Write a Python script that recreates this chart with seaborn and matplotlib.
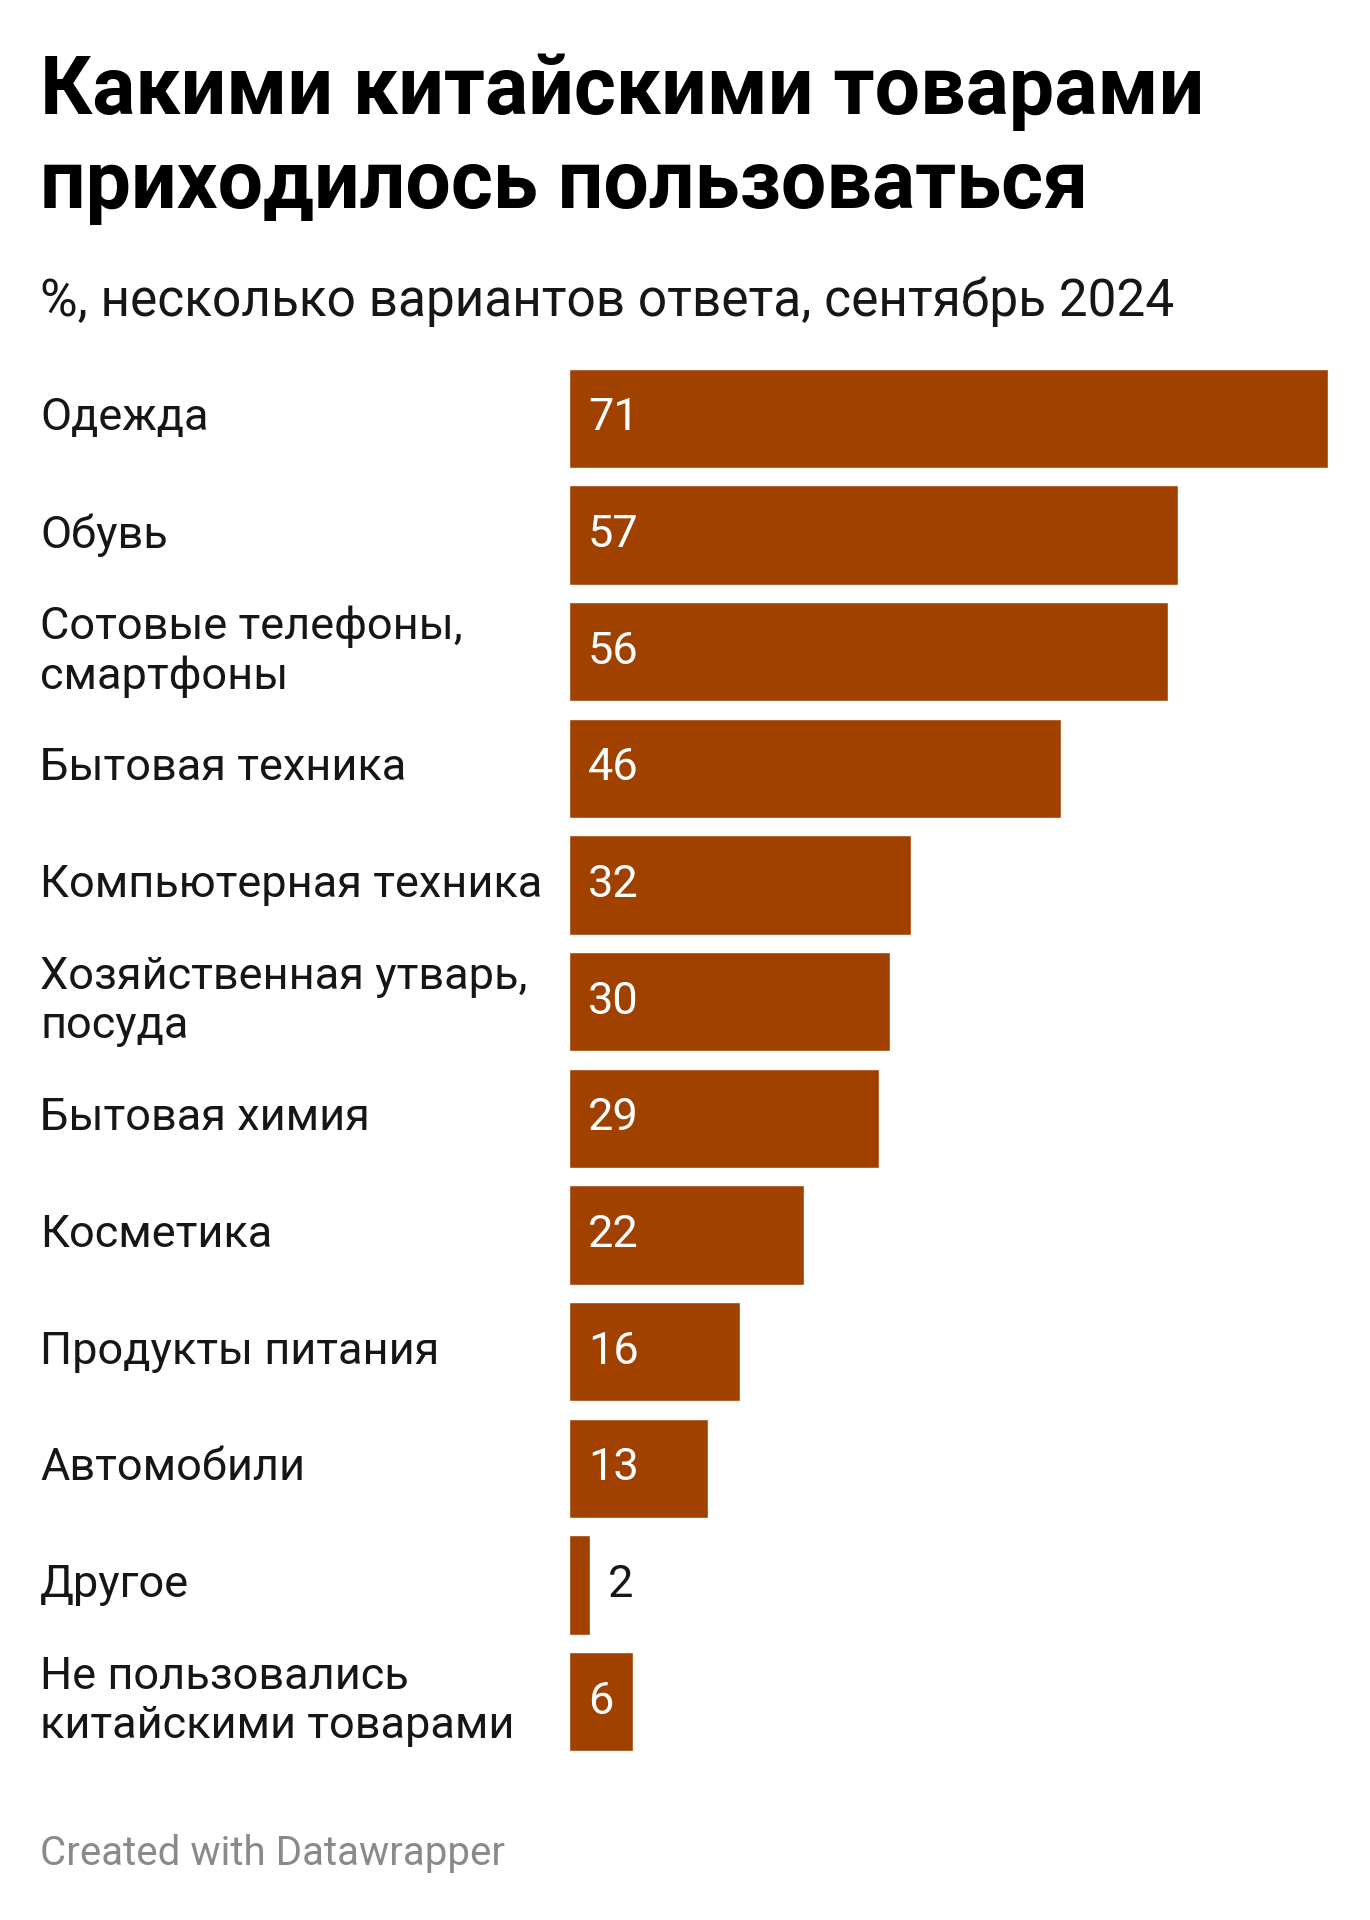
import seaborn as sns
import matplotlib.pyplot as plt
import matplotlib.transforms as mtransforms
import pandas as pd

# chart data
categories = ['Одежда', 'Обувь', 'Сотовые телефоны,\nсмартфоны', 'Бытовая техника',
              'Компьютерная техника', 'Хозяйственная утварь,\nпосуда', 'Бытовая химия',
              'Косметика', 'Продукты питания', 'Автомобили', 'Другое',
              'Не пользовались\nкитайскими товарами']
values = [71, 57, 56, 46, 32, 30, 29, 22, 16, 13, 2, 6]

title_lines = ['Какими китайскими товарами', 'приходилось пользоваться']
subtitle = '%, несколько вариантов ответа, сентябрь 2024'
footer = 'Created with Datawrapper'

bar_color = '#a04100'

sns.set_style('white')
plt.rcParams['font.family'] = ['Roboto', 'DejaVu Sans']

df = pd.DataFrame({'cat': categories, 'val': values})

fig = plt.figure(figsize=(13.7, 19.2), dpi=100)
ax = fig.add_axes([569/1370, 1 - 1760/1920, 759/1370, 1400/1920])

sns.barplot(data=df, x='val', y='cat', color=bar_color, orient='h',
            width=0.85, saturation=1, ax=ax)
ax.set_xlim(0, 71)
ax.set_ylim(len(categories) - 0.5, -0.5)
ax.set_xlabel('')
ax.set_ylabel('')
ax.set_xticks([])
ax.set_yticks([])
sns.despine(ax=ax, left=True, bottom=True)

# category labels at the left edge of the figure
lab_tr = mtransforms.blended_transform_factory(fig.transFigure, ax.transData)
for i, c in enumerate(categories):
    ax.text(40/1370, i, c, transform=lab_tr, ha='left', va='center',
            fontsize=32.5, color='#161616', linespacing=1.22)

# value labels: inside the bar in white, outside in black if the bar is too short
for i, v in enumerate(values):
    if v >= 5:
        ax.annotate(str(v), (0, i), xytext=(13.5, 0), textcoords='offset points',
                    ha='left', va='center', fontsize=32.5, color='white')
    else:
        ax.annotate(str(v), (v, i), xytext=(12.5, 0), textcoords='offset points',
                    ha='left', va='center', fontsize=32.5, color='#161616')

for k, (line, base) in enumerate(zip(title_lines, [114, 208])):
    fig.text(40/1370, 1 - base/1920, line, fontsize=58, fontweight='bold',
             ha='left', va='baseline', color='black')
fig.text(40/1370, 1 - 316/1920, subtitle, fontsize=37, ha='left',
         va='baseline', color='#161616')
fig.text(40/1370, 1 - 1865/1920, footer, fontsize=29, ha='left',
         va='baseline', color='#8a8a8a')

plt.savefig('out.png', dpi=100)
